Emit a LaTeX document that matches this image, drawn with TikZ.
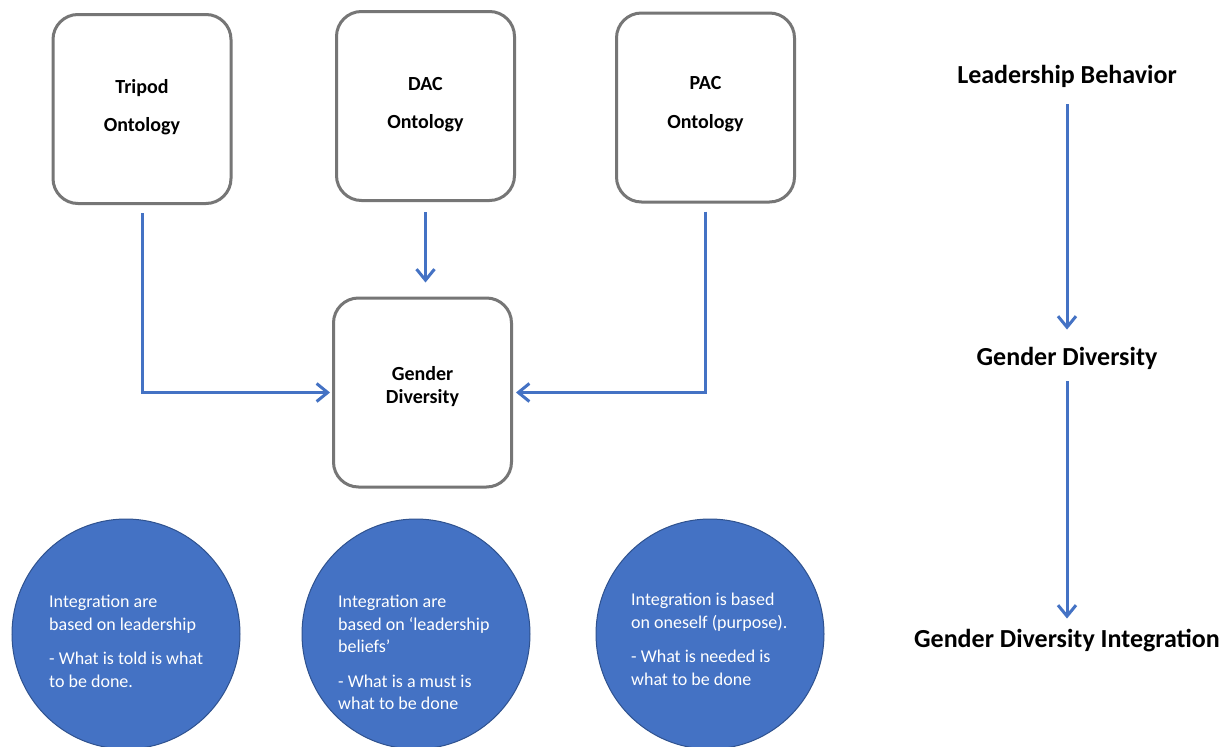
\documentclass[tikz,border=0pt]{standalone}
\usepackage{fontspec}
\setmainfont{Carlito}
\usetikzlibrary{arrows.meta,shapes.geometric}
\definecolor{ablue}{RGB}{68,114,196}
\definecolor{cborder}{RGB}{47,82,143}
\definecolor{bgray}{RGB}{118,118,118}
\begin{document}
\begin{tikzpicture}[x=1pt,y=-1pt,
 box/.style={draw=bgray, line width=3pt, rounded corners=25pt, minimum width=178pt, minimum height=189pt, inner sep=0pt},
 boxtext/.style={font=\fontsize{20}{24}\selectfont\bfseries, anchor=base, inner sep=0pt},
 arr/.style={draw=ablue, line width=3pt, -{Straight Barb[length=11pt,width=18pt]}},
 bubble/.style={ellipse, fill=ablue, draw=cborder, line width=1pt, minimum width=228pt, minimum height=230pt, inner sep=0pt},
 bubbletext/.style={text=white, font=\fontsize{18}{22.5}\selectfont, align=left, anchor=north west, inner sep=0pt},
 sidetext/.style={font=\fontsize{26}{31}\selectfont\bfseries, anchor=base, inner sep=0pt}]

\useasboundingbox[fill=white] (0,0) rectangle (1232,747);

% boxes
\node[box] (tripod) at (142,109) {};
\node[box] (dac) at (425.5,106) {};
\node[box] (pac) at (705.5,107.5) {};
\node[box] (gd) at (422.5,392.5) {};

\node[boxtext] (t1) at (142,93) {Tripod};
\node[boxtext] (t2) at (142,131) {Ontology};
\node[boxtext] (d1) at (425.5,90) {DAC};
\node[boxtext] (d2) at (425.5,128) {Ontology};
\node[boxtext] (p1) at (705.5,89) {PAC};
\node[boxtext] (p2) at (705.5,128) {Ontology};
\node[boxtext] (g1) at (422.5,380) {Gender};
\node[boxtext] (g2) at (422.5,403) {Diversity};

% connectors
\draw[arr, shorten >=2pt] ([yshift=-8pt]tripod.south) |- (gd.west);
\draw[arr, shorten >=3pt] ([yshift=-8pt]pac.south) |- (gd.east);
\draw[arr, shorten <=10pt, shorten >=14pt] (dac.south) -- (dac.south |- gd.north);

% bubbles
\node[bubble] (c1) at (126,634) {};
\node[bubble] (c2) at (416,634) {};
\node[bubble] (c3) at (710,634) {};
\node[bubbletext] (c1t) at (49,595) {Integration are\\based on leadership\\[12pt]- What is told is what\\to be done.};
\node[bubbletext] (c2t) at (338,595) {Integration are\\based on ‘leadership\\beliefs’\\[12pt]- What is a must is\\what to be done};
\node[bubbletext] (c3t) at (631,593) {Integration is based\\on oneself (purpose).\\[12pt]- What is needed is\\what to be done};

% right column
\node[sidetext] (lb) at (1067,83) {Leadership Behavior};
\node[sidetext] (gd2) at (1067,365) {Gender Diversity};
\node[sidetext] (gdi) at (1067,647) {Gender Diversity Integration};
\draw[arr, shorten <=17pt, shorten >=17pt] (lb.south) -- (gd2.north);
\draw[arr, shorten <=12pt, shorten >=10pt] (gd2.south) -- (gdi.north);
\end{tikzpicture}
\end{document}
